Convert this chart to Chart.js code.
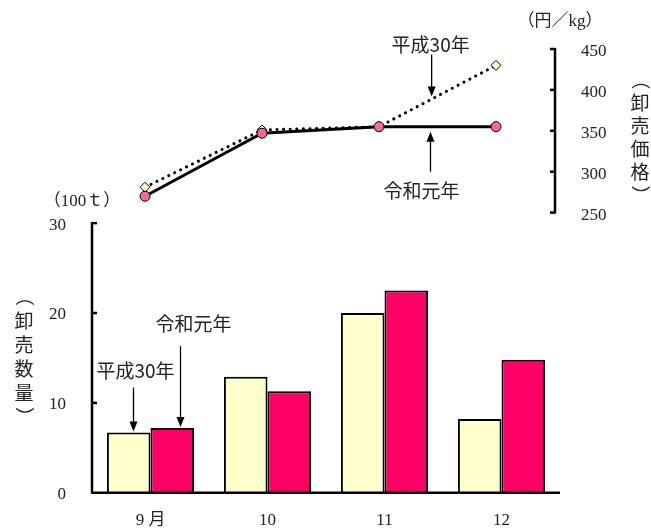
<!DOCTYPE html>
<html>
<head>
<meta charset="utf-8">
<script src="https://cdn.jsdelivr.net/npm/chart.js@4"></script>
<style>
  html, body { margin: 0; padding: 0; background: #fff; }
  #wrap { width: 651px; height: 529px; }
</style>
</head>
<body>
<div id="wrap"><canvas id="chart" width="651" height="529"></canvas></div>
<script>
const months = ["9 月", "10", "11", "12"];
const qtyH30 = [6.7, 12.9, 20.0, 8.2];
const qtyR1 = [7.2, 11.3, 22.5, 14.8];
const priceH30 = [281, 351, 355, 430];
const priceR1 = [270, 347, 355, 355];
const qtyTicks = [0, 10, 20, 30];
const priceTicks = [250, 300, 350, 400, 450];

const numFont = { family: "'Liberation Serif', 'Noto Sans CJK JP'", size: 17 };
const jpFont = "19px 'Noto Sans CJK JP'";
const txtColor = "#222";

function line(ctx, x1, y1, x2, y2) {
    ctx.beginPath();
    ctx.moveTo(x1, y1);
    ctx.lineTo(x2, y2);
    ctx.stroke();
}

// vertical arrow, head at (x, yTip)
function arrow(ctx, x, yFrom, yTip) {
    const dir = yTip > yFrom ? 1 : -1;
    ctx.lineWidth = 1.3;
    line(ctx, x, yFrom, x, yTip - dir * 8);
    ctx.beginPath();
    ctx.moveTo(x, yTip);
    ctx.lineTo(x - 4, yTip - dir * 10);
    ctx.lineTo(x + 4, yTip - dir * 10);
    ctx.closePath();
    ctx.fill();
}

function vtext(ctx, str, x, yStart, step) {
    [...str].forEach((ch, i) => {
        ctx.save();
        ctx.translate(x, yStart + i * step);
        if (ch === "（" || ch === "）") ctx.rotate(Math.PI / 2);
        ctx.fillText(ch, 0, 0);
        ctx.restore();
    });
}

const decor = {
    id: "decor",
    afterDatasetsDraw(chart) {
        const { ctx, chartArea } = chart;
        const { x, x2, y, y2 } = chart.scales;
        ctx.save();
        ctx.strokeStyle = "#000";
        ctx.fillStyle = "#000";

        // axes
        ctx.lineWidth = 2.5;
        const y0 = y.getPixelForValue(0);
        line(ctx, chartArea.left - 1, y0, chartArea.right, y0);
        line(ctx, chartArea.left, y0, chartArea.left, y.getPixelForValue(qtyTicks[qtyTicks.length - 1]) - 1);
        qtyTicks.slice(1).forEach((v) => {
            const p = y.getPixelForValue(v);
            line(ctx, chartArea.left, p, chartArea.left + 5, p);
        });
        const rx = chartArea.right - 5;
        line(ctx, rx, y2.getPixelForValue(priceTicks[0]) + 1, rx, y2.getPixelForValue(priceTicks[priceTicks.length - 1]) - 1);
        priceTicks.forEach((v) => {
            const p = y2.getPixelForValue(v);
            line(ctx, rx - 5, p, rx, p);
        });

        // annotations
        ctx.font = jpFont;
        ctx.textAlign = "center";
        ctx.textBaseline = "middle";
        const bx = x.getPixelForValue(0);
        const tipA = y.getPixelForValue(qtyH30[0]) - 1;
        arrow(ctx, bx - 17, tipA - 44, tipA);
        ctx.fillStyle = txtColor;
        ctx.fillText("平成30年", bx - 15, tipA - 61);
        ctx.fillStyle = "#000";
        const tipB = y.getPixelForValue(qtyR1[0]) - 1;
        arrow(ctx, bx + 30, tipB - 81, tipB);
        ctx.fillStyle = txtColor;
        ctx.fillText("令和元年", bx + 43, tipB - 103);

        ctx.fillStyle = "#000";
        const lxA = x2.getPixelForValue(2.45);
        const tipC = y2.getPixelForValue(392);
        arrow(ctx, lxA, tipC - 42, tipC);
        ctx.fillStyle = txtColor;
        ctx.fillText("平成30年", lxA - 1, tipC - 52);
        ctx.fillStyle = "#000";
        const lxB = x2.getPixelForValue(2.44);
        const tipD = y2.getPixelForValue(priceR1[2]) + 5;
        arrow(ctx, lxB, tipD + 40, tipD);
        ctx.fillStyle = txtColor;
        ctx.fillText("令和元年", lxB - 9, tipD + 59);

        // units and axis titles
        ctx.font = "17px 'Liberation Serif', 'Noto Sans CJK JP'";
        ctx.fillText("（100ｔ）", chartArea.left - 10, y.getPixelForValue(30) - 22);
        ctx.fillText("（円／kg）", chartArea.right, 22);
        ctx.font = jpFont;
        vtext(ctx, "（卸売数量）", 24, 296.5, 24);
        vtext(ctx, "（卸売価格）", 640, 80, 23);
        ctx.restore();
    },
};

// lines sit a few px left of the bar centres in the original, hence the second x axis
const shift = 0.047;

new Chart(document.getElementById("chart"), {
    data: {
        labels: months,
        datasets: [
            {
                type: "line",
                label: "令和元年",
                data: priceR1.map((v, i) => ({ x: i, y: v })),
                borderColor: "#000",
                borderWidth: 3,
                pointStyle: "circle",
                pointRadius: 5,
                pointBackgroundColor: "#FF6699",
                pointBorderColor: "#000",
                pointBorderWidth: 1,
                fill: false,
                xAxisID: "x2",
                yAxisID: "y2",
            },
            {
                type: "line",
                label: "平成30年",
                data: priceH30.map((v, i) => ({ x: i, y: v })),
                borderColor: "#000",
                borderWidth: 3,
                borderDash: [0.1, 6.5],
                borderCapStyle: "round",
                pointStyle: "rectRot",
                pointRadius: 5,
                pointBackgroundColor: "#FFFFCC",
                pointBorderColor: "#000",
                pointBorderWidth: 1,
                fill: false,
                xAxisID: "x2",
                yAxisID: "y2",
            },
            // bar groups get split per x axis (x and x2), so the percentage is doubled
            // and the lines go first so the bars land in the middle slots
            {
                type: "bar",
                label: "平成30年",
                data: qtyH30,
                backgroundColor: "#FFFFCC",
                borderColor: "#000",
                borderWidth: 2,
                barPercentage: 1,
                categoryPercentage: 1.49,
                xAxisID: "x",
                yAxisID: "y",
            },
            {
                type: "bar",
                label: "令和元年",
                data: qtyR1,
                backgroundColor: "#FF0066",
                borderColor: "#000",
                borderWidth: 2,
                barPercentage: 1,
                categoryPercentage: 1.49,
                xAxisID: "x",
                yAxisID: "y",
            },
        ],
    },
    options: {
        responsive: false,
        devicePixelRatio: 1,
        animation: false,
        layout: { padding: { top: 49, left: 45, right: 0, bottom: 0 } },
        plugins: { legend: { display: false }, tooltip: { enabled: false } },
        scales: {
            x: {
                type: "category",
                offset: true,
                grid: { display: false, drawTicks: false },
                border: { display: false },
                ticks: { font: numFont, color: txtColor, padding: 18, maxRotation: 0, autoSkip: false },
                afterFit: (s) => { s.height = 34; },
            },
            x2: {
                type: "linear",
                display: false,
                min: -0.5 + shift,
                max: 3.5 + shift,
            },
            y: {
                position: "left",
                min: 0,
                max: 49.37,
                grid: { display: false, drawTicks: false },
                border: { display: false },
                ticks: { font: numFont, color: txtColor, padding: 26, labelOffset: 2 },
                afterBuildTicks: (s) => { s.ticks = qtyTicks.map((v) => ({ value: v })); },
                afterFit: (s) => { s.width = 47; },
            },
            y2: {
                position: "right",
                min: -92.6,
                max: 450,
                grid: { display: false, drawTicks: false },
                border: { display: false },
                ticks: { font: numFont, color: txtColor, padding: 21, labelOffset: 3 },
                afterBuildTicks: (s) => { s.ticks = priceTicks.map((v) => ({ value: v })); },
                afterFit: (s) => { s.width = 91; },
            },
        },
    },
    plugins: [decor],
});
</script>
</body>
</html>
